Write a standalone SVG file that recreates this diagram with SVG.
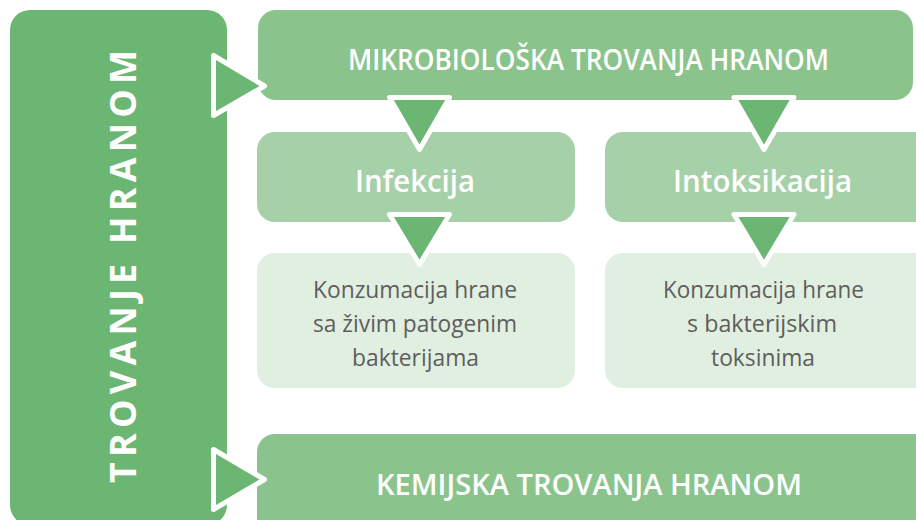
<svg xmlns="http://www.w3.org/2000/svg" width="916" height="520" viewBox="0 0 916 520">
<style>
.dark{fill:#6bb672}
.bar{fill:#8ac48c}
.mid{fill:#a6d1a8}
.light{fill:#e1efe1}
.tri{fill:#6bb672;stroke:#ffffff;stroke-width:5;stroke-linejoin:round}
.t1{font-family:"Open Sans","Noto Sans","Liberation Sans",sans-serif;font-size:29px;font-weight:600;fill:#ffffff;text-anchor:middle}
.t2{font-family:"Open Sans","Noto Sans","Liberation Sans",sans-serif;font-size:30px;font-weight:600;fill:#ffffff;text-anchor:middle}
.t3{font-family:"Open Sans","Noto Sans","Liberation Sans",sans-serif;font-size:24px;fill:#5e5e5e;text-anchor:middle}
.tv{font-family:"Open Sans","DejaVu Sans",sans-serif;font-size:36px;font-weight:700;fill:#ffffff;text-anchor:middle}
</style>
<rect width="916" height="520" fill="#ffffff"/>
<g id="trovanje-hranom">
<rect class="dark" x="10" y="10" width="217" height="515" rx="20"/>
<text class="tv" transform="translate(136,266.5) rotate(-90)" x="0" y="0" textLength="433" lengthAdjust="spacing">TROVANJE HRANOM</text>
</g>
<g id="mikrobioloska">
<rect class="bar" x="258" y="10" width="655" height="90" rx="18"/>
<text class="t1" x="588.5" y="70" textLength="481" lengthAdjust="spacingAndGlyphs">MIKROBIOLOŠKA TROVANJA HRANOM</text>
</g>
<g id="infekcija">
<rect class="mid" x="257" y="132" width="318" height="90" rx="18"/>
<text class="t2" x="415" y="192" textLength="120" lengthAdjust="spacingAndGlyphs">Infekcija</text>
</g>
<g id="intoksikacija">
<rect class="mid" x="605" y="132" width="330" height="90" rx="18"/>
<text class="t2" x="762.5" y="192" textLength="179" lengthAdjust="spacingAndGlyphs">Intoksikacija</text>
</g>
<g id="infekcija-opis">
<rect class="light" x="257" y="253" width="318" height="135" rx="18"/>
<text class="t3" x="415" y="298" textLength="204" lengthAdjust="spacingAndGlyphs">Konzumacija hrane</text>
<text class="t3" x="415" y="332" textLength="204" lengthAdjust="spacingAndGlyphs">sa živim patogenim</text>
<text class="t3" x="415.5" y="366" textLength="127" lengthAdjust="spacingAndGlyphs">bakterijama</text>
</g>
<g id="intoksikacija-opis">
<rect class="light" x="605" y="253" width="330" height="135" rx="18"/>
<text class="t3" x="763.5" y="298" textLength="201" lengthAdjust="spacingAndGlyphs">Konzumacija hrane</text>
<text class="t3" x="762" y="332" textLength="150" lengthAdjust="spacingAndGlyphs">s bakterijskim</text>
<text class="t3" x="763" y="366" textLength="104" lengthAdjust="spacingAndGlyphs">toksinima</text>
</g>
<g id="kemijska">
<rect class="bar" x="257" y="434" width="680" height="110" rx="18"/>
<text class="t1" x="589" y="495" textLength="426" lengthAdjust="spacingAndGlyphs">KEMIJSKA TROVANJA HRANOM</text>
</g>
<g id="connectors">
<polygon class="tri" points="213.5,55.5 213.5,115.5 264.5,86"/>
<polygon class="tri" points="213.5,449.5 213.5,509.5 264.5,479.5"/>
<polygon class="tri" points="389.5,97.5 449.5,97.5 419.5,149.5"/>
<polygon class="tri" points="734,97.5 794,97.5 764,149.5"/>
<polygon class="tri" points="389.5,214.5 449.5,214.5 419.5,264.5"/>
<polygon class="tri" points="734,214.5 794,214.5 764,264.5"/>
</g>
</svg>
